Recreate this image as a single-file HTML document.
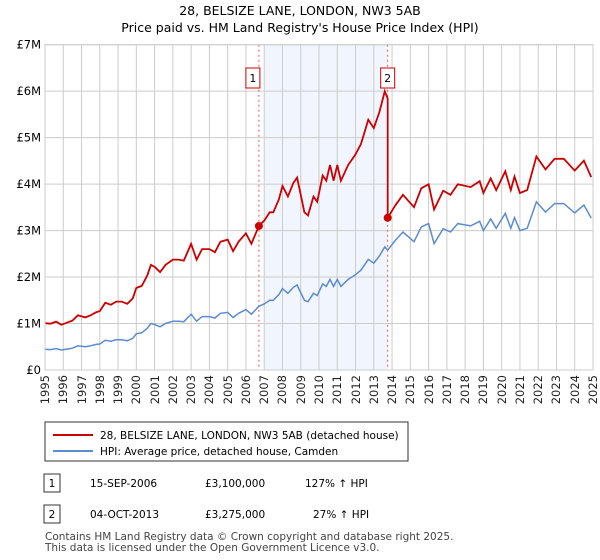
<!DOCTYPE html>
<html><head><meta charset="utf-8"><style>
body{margin:0;width:600px;height:560px;background:#fff;font-family:"Liberation Sans","DejaVu Sans",sans-serif;color:#222;overflow:hidden;position:relative}
svg text{font-family:"DejaVu Sans","Liberation Sans",sans-serif}
#c{position:absolute;left:0;top:0}
.xl{position:absolute;top:376px;width:34px;height:14px;line-height:14px;font-size:11.5px;font-family:"DejaVu Sans","Liberation Sans",sans-serif;text-align:right;color:#222;transform:rotate(-90deg);transform-origin:center center;white-space:nowrap}
</style></head><body>
<svg id="c" width="600" height="560">
<text x="300" y="15" text-anchor="middle" font-size="12.5">28, BELSIZE LANE, LONDON, NW3 5AB</text>
<text x="300" y="32" text-anchor="middle" font-size="12.5">Price paid vs. HM Land Registry's House Price Index (HPI)</text>
<g id="plot"></g>
<rect x="45" y="422" width="363" height="39" fill="#fff" stroke="#333"/>
<line x1="53" y1="435" x2="93" y2="435" stroke="#cc0000" stroke-width="2"/>
<text x="100" y="439" font-size="10.5">28, BELSIZE LANE, LONDON, NW3 5AB (detached house)</text>
<line x1="53" y1="451" x2="93" y2="451" stroke="#5b8bd0" stroke-width="2"/>
<text x="100" y="455" font-size="10.5">HPI: Average price, detached house, Camden</text>
<rect x="44" y="474" width="16" height="18" fill="#fff" stroke="#333"/>
<text x="52" y="487" text-anchor="middle" font-size="10.5">1</text>
<text x="90" y="487" font-size="10.5">15-SEP-2006</text>
<text x="205" y="487" font-size="10.5">£3,100,000</text>
<text x="305" y="487" font-size="10.5">127% ↑ HPI</text>
<rect x="44" y="505" width="16" height="18" fill="#fff" stroke="#333"/>
<text x="52" y="518" text-anchor="middle" font-size="10.5">2</text>
<text x="90" y="518" font-size="10.5">04-OCT-2013</text>
<text x="205" y="518" font-size="10.5">£3,275,000</text>
<text x="313" y="518" font-size="10.5">27% ↑ HPI</text>
<text x="45" y="540" font-size="10.5" fill="#444">Contains HM Land Registry data © Crown copyright and database right 2025.</text>
<text x="45" y="551" font-size="10.5" fill="#444">This data is licensed under the Open Government Licence v3.0.</text>
</svg>
<div id="xlabels"></div>
<script>
const yTicks=[0,1,2,3,4,5,6,7];
const yLabels=["£0","£1M","£2M","£3M","£4M","£5M","£6M","£7M"];
const xYears=[1995,1996,1997,1998,1999,2000,2001,2002,2003,2004,2005,2006,2007,2008,2009,2010,2011,2012,2013,2014,2015,2016,2017,2018,2019,2020,2021,2022,2023,2024,2025];
const hpiDates=[1995,1995.3,1995.6,1995.9,1996.2,1996.5,1996.8,1997.2,1997.5,1997.8,1998,1998.3,1998.6,1998.9,1999.2,1999.5,1999.8,2000,2000.3,2000.6,2000.8,2001,2001.3,2001.6,2002,2002.3,2002.6,2003,2003.3,2003.6,2004,2004.3,2004.6,2005,2005.3,2005.6,2006,2006.3,2006.71,2007,2007.3,2007.5,2007.8,2008,2008.3,2008.6,2008.8,2009.2,2009.4,2009.7,2009.9,2010.2,2010.4,2010.6,2010.8,2011,2011.2,2011.6,2012,2012.3,2012.7,2013,2013.3,2013.6,2013.76,2014.2,2014.6,2015.2,2015.6,2016,2016.3,2016.8,2017.2,2017.6,2018.3,2018.8,2019,2019.4,2019.7,2020.2,2020.5,2020.7,2021,2021.4,2021.9,2022.4,2022.9,2023.4,2024,2024.5,2024.9];
const hpiValues=[0.445,0.44,0.46,0.43,0.45,0.47,0.52,0.5,0.52,0.55,0.56,0.64,0.62,0.65,0.65,0.63,0.68,0.78,0.8,0.9,1.0,0.98,0.93,1.0,1.05,1.05,1.04,1.2,1.05,1.15,1.15,1.12,1.22,1.24,1.13,1.22,1.3,1.2,1.37,1.42,1.5,1.5,1.62,1.75,1.65,1.78,1.83,1.5,1.47,1.65,1.6,1.85,1.8,1.95,1.8,1.95,1.8,1.95,2.05,2.15,2.38,2.3,2.45,2.65,2.58,2.8,2.97,2.76,3.08,3.15,2.72,3.04,2.97,3.15,3.1,3.2,3.0,3.25,3.05,3.37,3.05,3.28,3.0,3.05,3.62,3.4,3.58,3.58,3.38,3.55,3.27];
const saleDates=[2006.71,2013.76];
const salePrices=[3.1,3.275];
const SV="http://www.w3.org/2000/svg";
const L=45,R=593,T=44.7,B=370;
const X=y=>L+(y-1995)*(R-L)/30;
const Y=v=>B-v*(B-T)/7;
const g=document.getElementById('plot');
const xl=document.getElementById('xlabels');
function mk(t,a,p){const e=document.createElementNS(SV,t);for(const k in a)e.setAttribute(k,a[k]);(p||g).appendChild(e);return e;}
function hpiAt(d){for(let i=0;i<hpiDates.length-1;i++){if(d>=hpiDates[i]&&d<=hpiDates[i+1]){const f=(d-hpiDates[i])/(hpiDates[i+1]-hpiDates[i]);return hpiValues[i]+f*(hpiValues[i+1]-hpiValues[i]);}}return hpiValues[hpiValues.length-1];}
let sh=mk('rect',{x:X(2007),y:T,width:X(saleDates[1])-X(2007),height:B-T,fill:'#eef3fd',opacity:0.8});


xYears.forEach(yr=>{let l=mk('line',{x1:X(yr),x2:X(yr),y1:T,y2:B,stroke:'#ccc'});


let d=document.createElement('div');d.className='xl';d.textContent=yr;
d.style.left=(X(yr)-17)+'px';d.style.top=(B+5+17-7)+'px';


xl.appendChild(d);});
yTicks.forEach((v,i)=>{let l=mk('line',{x1:L,x2:R,y1:Y(v),y2:Y(v),stroke:'#ccc'});


let t=mk('text',{x:L-4,y:Y(v)+4,'font-size':11.5,'text-anchor':'end'});t.textContent=yLabels[i];

});
saleDates.forEach((d,i)=>{let l=mk('line',{x1:X(d),x2:X(d),y1:T,y2:B,stroke:'#e55','stroke-dasharray':'2,3'});


let bx=X(d)-(i==0?13:7);
let r=mk('rect',{x:bx,y:68,width:14,height:20,fill:'#fff',stroke:'#c00'});


let t=mk('text',{x:bx+7,y:82,'font-size':11,'text-anchor':'middle'});t.textContent=String(i+1);

});
let bp=hpiDates.map((d,i)=>X(d).toFixed(1)+','+Y(hpiValues[i]).toFixed(1)).join(' ');
let bl=mk('polyline',{points:bp,fill:'none',stroke:'#5b8bd0','stroke-width':1.5});


const r1=salePrices[0]/hpiAt(saleDates[0]),r2=salePrices[1]/hpiAt(saleDates[1]);
let rp=[];
hpiDates.forEach((d,i)=>{if(d<saleDates[1])rp.push([d,hpiValues[i]*r1]);});
rp.push([saleDates[1],hpiAt(saleDates[1])*r1]);
rp.push([saleDates[1],salePrices[1]]);
hpiDates.forEach((d,i)=>{if(d>saleDates[1])rp.push([d,hpiValues[i]*r2]);});
let rl=mk('polyline',{points:rp.map(p=>X(p[0]).toFixed(1)+','+Y(p[1]).toFixed(1)).join(' '),fill:'none',stroke:'#cc0000','stroke-width':1.8});


saleDates.forEach((d,i)=>{let c=mk('circle',{cx:X(d),cy:Y(salePrices[i]),r:4,fill:'#cc0000'});

});
let fr=mk('rect',{x:L,y:T,width:R-L,height:B-T,fill:'none',stroke:'#ccc'});


</script>
</body></html>
